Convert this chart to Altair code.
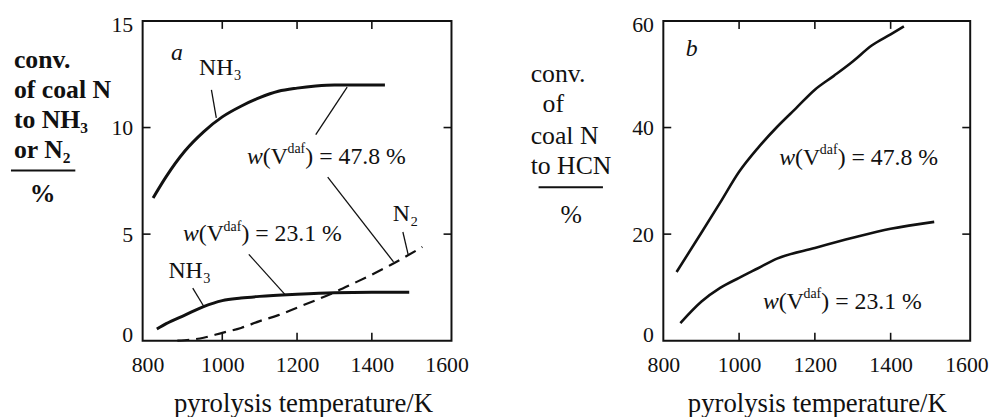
import altair as alt
import pandas as pd

FONT = "Liberation Serif"
INK = "#111111"

# ---------------- data ----------------
# panel a : conversion of coal N to NH3 / N2 (%)
a_hi_T = [815, 850, 900, 950, 1000, 1050, 1100, 1150, 1200, 1250, 1300, 1350, 1435]
a_hi_y = [6.7, 7.7, 8.9, 9.8, 10.5, 11.0, 11.4, 11.7, 11.85, 11.95, 12.0, 12.0, 12.0]
a_lo_T = [825, 850, 900, 950, 1000, 1050, 1100, 1200, 1300, 1400, 1500]
a_lo_y = [0.55, 0.8, 1.2, 1.6, 1.88, 2.0, 2.08, 2.18, 2.25, 2.27, 2.27]
a_n2_T = [880, 950, 1000, 1050, 1100, 1150, 1200, 1250, 1300, 1350, 1400, 1450, 1535]
a_n2_y = [0.0, 0.14, 0.37, 0.6, 0.92, 1.2, 1.55, 1.9, 2.27, 2.68, 3.1, 3.55, 4.4]

# panel b : conversion of coal N to HCN (%)
b_hi_T = [835, 900, 950, 1000, 1050, 1100, 1150, 1200, 1250, 1300, 1350, 1400, 1435]
b_hi_y = [12.9, 20.2, 25.9, 31.7, 36.2, 40.1, 43.6, 47.1, 49.7, 52.4, 55.4, 57.5, 59.0]
b_lo_T = [845, 900, 950, 1000, 1050, 1100, 1200, 1300, 1400, 1515]
b_lo_y = [3.3, 7.3, 9.9, 11.8, 13.6, 15.4, 17.4, 19.3, 21.0, 22.3]

# tick values
x_labels = [800, 1000, 1200, 1400, 1600]
x_inner_ticks = [1000, 1200, 1400]
a_y_labels = [0, 5, 10, 15]
a_y_inner_ticks = [5, 10]
b_y_labels = [0, 20, 40, 60]
b_y_inner_ticks = [20, 40]

# texts
x_title = "pyrolysis temperature/K"
a_title_lines = ["conv.", "of coal N", "to NH\u2083", "or N\u2082"]
b_title_lines = ["conv.", "of", "coal N", "to HCN"]
unit_text = "%"
w_values = ["47.8 %", "23.1 %"]

# annotation anchors (data coordinates)
a_lab_text = ["NH\u2083", "NH\u2083", "N\u2082"]
a_lab_T = [995, 913, 1490]
a_lab_y = [12.8, 3.26, 5.95]
a_w_T = [1066, 895]
a_w_y = [8.6, 4.98]
b_w_T = [1106, 1063]
b_w_y = [34.2, 7.3]
panel_letters = ["a", "b"]
a_letter_pos = (879, 13.5)
b_letter_pos = (875, 54.7)

# leader lines panel a: (T, y) -> (T2, y2)
a_lead_T = [971, 1334, 1282, 921, 1071, 1483]
a_lead_y = [11.77, 11.9, 7.67, 2.47, 4.05, 5.1]
a_lead_T2 = [984, 1250, 1458, 950, 1168, 1497]
a_lead_y2 = [10.45, 9.67, 3.7, 1.63, 2.16, 4.05]

W_A, W_B, H = 312, 310, 323
TICK = 8


def series_df(pairs):
    rows = []
    for name, Ts, ys in pairs:
        for t, v in zip(Ts, ys):
            rows.append({"series": name, "T": t, "y": v})
    return pd.DataFrame(rows)


def make_panel(width, xdom, ydom, ylabels, yinner, solid, solid_w, dashed, leaders,
               labels, wlab, letter, title_spec, title_x):
    xs = alt.Scale(domain=xdom, nice=False, zero=False)
    ys = alt.Scale(domain=ydom, nice=False, zero=False)
    xaxis = alt.Axis(values=x_labels, format="d", ticks=False, domain=False, grid=False,
                     labelFont=FONT, labelFontSize=22, labelColor=INK,
                     labelPadding=14, labelFlush=False, title=x_title,
                     titleFont=FONT, titleFontSize=27, titleFontWeight="normal",
                     titleColor=INK, titlePadding=16, titleX=title_x)
    yaxis = alt.Axis(values=ylabels, format="d", ticks=False, domain=False, grid=False,
                     labelFont=FONT, labelFontSize=22, labelColor=INK,
                     labelPadding=10, labelFlush=True, labelFlushOffset=6, title=None)
    X = alt.X("T:Q", scale=xs, axis=xaxis)
    Y = alt.Y("y:Q", scale=ys, axis=yaxis)

    layers = []
    layers.append(alt.Chart(series_df(solid)).mark_line(
        color=INK, strokeWidth=solid_w, interpolate="monotone"
    ).encode(x=X, y=Y, detail="series:N"))
    if dashed:
        layers.append(alt.Chart(series_df(dashed)).mark_line(
            color=INK, strokeWidth=2.2, strokeDash=[12, 7], interpolate="monotone"
        ).encode(x=X, y=Y, detail="series:N"))
    if leaders is not None:
        layers.append(alt.Chart(leaders).mark_rule(color=INK, strokeWidth=1.3).encode(
            x=X, y=Y, x2="T2:Q", y2="y2:Q"))
    # inward ticks on all four sides
    xt = pd.DataFrame({"T": x_inner_ticks})
    yt = pd.DataFrame({"y": yinner})
    layers.append(alt.Chart(xt).mark_rule(color=INK, strokeWidth=1.6).encode(
        x=X, y=alt.value(0), y2=alt.value(TICK)))
    layers.append(alt.Chart(xt).mark_rule(color=INK, strokeWidth=1.6).encode(
        x=X, y=alt.value(H), y2=alt.value(H - TICK)))
    layers.append(alt.Chart(yt).mark_rule(color=INK, strokeWidth=1.6).encode(
        y=Y, x=alt.value(0), x2=alt.value(TICK)))
    layers.append(alt.Chart(yt).mark_rule(color=INK, strokeWidth=1.6).encode(
        y=Y, x=alt.value(width - TICK), x2=alt.value(width)))
    # simple labels
    if labels is not None:
        layers.append(alt.Chart(labels).mark_text(
            font=FONT, fontSize=24, color=INK, align="center", baseline="middle"
        ).encode(x=X, y=Y, text="txt:N"))
    # panel letter
    layers.append(alt.Chart(letter).mark_text(
        font=FONT, fontSize=24, fontStyle="italic", color=INK, align="center",
        baseline="middle").encode(x=X, y=Y, text="txt:N"))
    # w(V^daf) = ... labels built from pieces
    base = alt.Chart(wlab)
    layers.append(base.mark_text(font=FONT, fontSize=24, fontStyle="italic", color=INK,
                                 align="left", baseline="middle").encode(
        x=X, y=Y, text=alt.value("w")))
    layers.append(base.mark_text(font=FONT, fontSize=24, color=INK, align="left",
                                 baseline="middle", dx=16).encode(
        x=X, y=Y, text=alt.value("(V")))
    layers.append(base.mark_text(font=FONT, fontSize=14, color=INK, align="left",
                                 baseline="middle", dx=41, dy=-8).encode(
        x=X, y=Y, text=alt.value("daf")))
    layers.append(base.mark_text(font=FONT, fontSize=24, color=INK, align="left",
                                 baseline="middle", dx=59).encode(
        x=X, y=Y, text="rest:N"))
    # y title block (left of the frame)
    lines, xs_l, ys_l, weight, bar, unit_pos = title_spec
    for txt, lx, ly in zip(lines, xs_l, ys_l):
        layers.append(alt.Chart(pd.DataFrame({"t": [txt]})).mark_text(
            font=FONT, fontSize=26, fontWeight=weight, color=INK, align="left",
            baseline="alphabetic").encode(text="t:N", x=alt.value(lx), y=alt.value(ly)))
    layers.append(alt.Chart(pd.DataFrame({"t": [unit_text]})).mark_rule(
        color=INK, strokeWidth=2).encode(
        x=alt.value(bar[0]), x2=alt.value(bar[1]), y=alt.value(bar[2])))
    layers.append(alt.Chart(pd.DataFrame({"t": [unit_text]})).mark_text(
        font=FONT, fontSize=26, fontWeight=weight, color=INK, align="center",
        baseline="alphabetic").encode(text="t:N", x=alt.value(unit_pos[0]),
                                      y=alt.value(unit_pos[1])))
    return alt.layer(*layers).properties(width=width, height=H)


a_leaders = pd.DataFrame({"T": a_lead_T, "y": a_lead_y, "T2": a_lead_T2, "y2": a_lead_y2})
a_labels = pd.DataFrame({"T": a_lab_T, "y": a_lab_y, "txt": a_lab_text})
a_letter = pd.DataFrame({"T": [a_letter_pos[0]], "y": [a_letter_pos[1]], "txt": [panel_letters[0]]})
b_letter = pd.DataFrame({"T": [b_letter_pos[0]], "y": [b_letter_pos[1]], "txt": [panel_letters[1]]})
a_w = pd.DataFrame({"T": a_w_T, "y": a_w_y, "rest": [") = " + v for v in w_values]})
b_w = pd.DataFrame({"T": b_w_T, "y": b_w_y, "rest": [") = " + v for v in w_values]})

pa = make_panel(
    W_A, [787, 1613], [0, 15], a_y_labels, a_y_inner_ticks,
    [("NH3 47.8", a_hi_T, a_hi_y), ("NH3 23.1", a_lo_T, a_lo_y)], 3,
    [("N2 47.8", a_n2_T, a_n2_y)],
    a_leaders, a_labels, a_w, a_letter,
    (a_title_lines, [-130, -130, -130, -130], [48, 78, 108, 138], "bold",
     (-133, -68, 151), (-101, 183)),
    W_A / 2 + 6,
)
pb = make_panel(
    W_B, [800, 1610], [0, 60], b_y_labels, b_y_inner_ticks,
    [("HCN 47.8", b_hi_T, b_hi_y), ("HCN 23.1", b_lo_T, b_lo_y)], 2.6,
    None, None, None, b_w, b_letter,
    (b_title_lines, [-134, -122, -134, -134], [62, 92, 124, 155], "normal",
     (-126, -61, 168), (-93, 204)),
    W_B / 2,
)

chart = alt.hconcat(pa, pb, spacing=214, bounds="flush").properties(
    padding={"left": 1, "top": 3, "right": 0, "bottom": 0},
    background="white",
).configure_view(stroke=INK, strokeWidth=2)

chart.save("out.html", embed_options={"renderer": "svg", "actions": False})
